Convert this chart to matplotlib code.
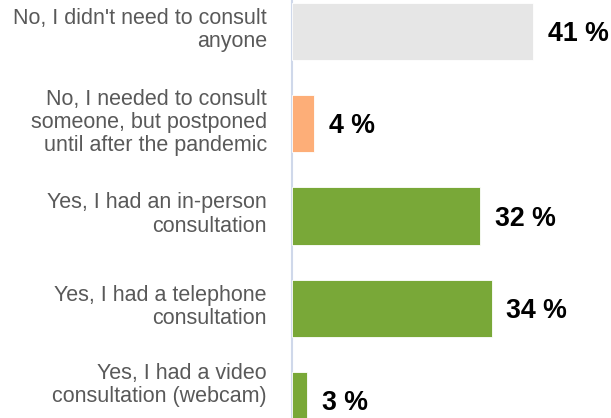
import matplotlib
matplotlib.use("Agg")
import matplotlib.pyplot as plt

categories = [
    "No, I didn't need to consult\nanyone",
    "No, I needed to consult\nsomeone, but postponed\nuntil after the pandemic",
    "Yes, I had an in-person\nconsultation",
    "Yes, I had a telephone\nconsultation",
    "Yes, I had a video\nconsultation (webcam)",
]
values = [41, 3.8, 32, 34, 2.6]
value_labels = ["41 %", "4 %", "32 %", "34 %", "3 %"]
colors = ["#e6e6e6", "#fdae78", "#79a838", "#79a838", "#79a838"]

plt.rcParams['font.family'] = ['Liberation Sans', 'DejaVu Sans']

fig = plt.figure(figsize=(6.11, 4.18), dpi=100)
ax = fig.add_axes([292/611, 0, 1 - 292/611, 1])

y = list(range(len(categories)))
ax.barh(y, values, height=0.62, color=colors, edgecolor="white", linewidth=0.6, zorder=2)

ax.set_xlim(0, 54.3)
ax.set_ylim(4.19, -0.34)

for yi, v, lab in zip(y, values, value_labels):
    ax.text(v + 2.5, yi + 0.03, lab, va="center", ha="left",
            fontsize=19.3, fontweight="bold", color="black")

# category labels (last one nudged up so it stays inside the figure)
for i, (yi, cat) in enumerate(zip(y, categories)):
    dy = 11 if i == len(categories) - 1 else 1.0
    ax.annotate(cat, xy=(0, yi), xytext=(-18, dy), textcoords="offset points",
                ha="right", va="center", fontsize=15.5, color="#595959",
                linespacing=1.13, annotation_clip=False)

ax.set_yticks([])
ax.set_xticks([])

for s in ["top", "right", "bottom"]:
    ax.spines[s].set_visible(False)
ax.spines["left"].set_color("#cfd8ea")
ax.spines["left"].set_linewidth(1.5)
ax.spines["left"].set_zorder(1)

fig.savefig("out.png", dpi=100)
